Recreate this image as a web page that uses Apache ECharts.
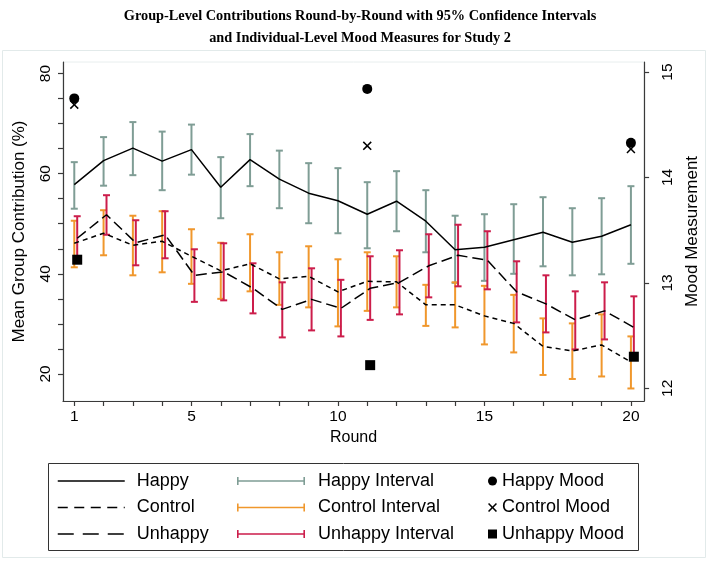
<!DOCTYPE html>
<html><head><meta charset="utf-8">
<script src="https://cdn.jsdelivr.net/npm/echarts@6/dist/echarts.min.js"></script>
<style>html,body{margin:0;padding:0;background:#fff}#c{width:709px;height:562px}</style>
</head><body><div id="c"></div>
<script>
// ---- data ----
const rounds = [1,2,3,4,5,6,7,8,9,10,11,12,13,14,15,16,17,18,19,20];
const happyMean   = [57.8,62.6,65.1,62.5,64.8,57.3,62.8,58.9,56.1,54.6,51.9,54.5,50.5,44.8,45.3,46.8,48.3,46.3,47.5,49.8];
const happyLow    = [53.0,57.6,59.7,56.7,59.8,51.1,57.5,53.1,50.1,48.1,45.1,48.5,44.3,38.2,38.6,40.0,41.5,39.7,39.9,42.0];
const happyHigh   = [62.3,67.3,70.3,68.4,69.8,63.3,67.9,64.6,62.1,61.1,58.3,60.5,56.7,51.6,51.9,53.9,55.3,53.1,55.1,57.5];
const controlMean = [46.1,48.1,45.7,46.5,43.5,40.6,42.0,39.0,39.5,36.4,38.5,38.4,33.8,33.8,31.6,30.1,25.5,24.6,25.8,22.4];
const controlLow  = [41.3,43.7,39.7,40.3,38.0,35.0,36.5,33.8,33.3,29.5,32.6,33.3,29.6,29.3,25.9,24.3,19.8,19.0,19.5,17.1];
const controlHigh = [50.6,52.7,51.6,52.5,48.9,46.2,47.9,44.3,45.5,42.9,44.3,43.5,37.8,38.3,37.6,35.8,31.1,30.1,31.9,27.5];
const unhappyMean = [47.1,51.8,46.2,47.8,39.7,40.4,37.1,32.9,34.9,33.1,37.1,38.3,41.6,43.7,42.7,36.4,34.0,30.8,32.6,29.3];
const unhappyLow  = [42.7,47.8,41.7,43.1,34.4,34.7,32.1,27.3,28.7,27.5,30.8,31.9,35.3,37.5,36.9,30.3,28.3,24.9,26.9,23.1];
const unhappyHigh = [51.5,55.7,50.7,52.5,44.9,46.1,42.1,38.3,41.1,38.8,43.5,44.7,47.9,49.8,48.5,42.5,39.7,36.5,38.3,35.5];
const moodRounds  = [1,11,20];
const happyMood   = [14.75,14.84,14.33];
const controlMood = [14.69,14.30,14.27];
const unhappyMood = [13.22,12.22,12.30];
// tick labels
const roundTicks = rounds;
const roundLabels = [1,5,10,15,20];
const contribTicks = [20,25,30,35,40,45,50,55,60,65,70,75,80];
const contribLabels = [20,40,60,80];
const moodTicks = [12,13,14,15];

// ---- styling ----
const SANS = 'Liberation Sans, Arial, sans-serif';
const GREEN = '#7f9d95', ORANGE = '#f0972c', RED = '#cc1d4b';
const AXIS = '#3a3a3a';
const UNHAPPY_SHIFT = 0.1; // unhappy marks drawn slightly right, as in reference
const X_ICON = 'path://M0,1.2L1.2,0L5,3.8L8.8,0L10,1.2L6.2,5L10,8.8L8.8,10L5,6.2L1.2,10L0,8.8L3.8,5Z';
const CAP_ICON = 'path://M0,0H1.6V3.3H66.4V0H68V8H66.4V4.7H1.6V8H0Z';

function pairs(xs, ys, shift) { return xs.map((x, i) => [x + (shift || 0), ys[i]]); }
function triples(xs, lo, hi, shift) { return xs.map((x, i) => [x + (shift || 0), lo[i], hi[i]]); }

function intervalSeries(name, color, lo, hi, shift) {
  return {
    name, type: 'custom', z: 2, itemStyle: { color },
    data: triples(rounds, lo, hi, shift),
    encode: { x: 0, y: [1, 2] },
    renderItem: function (params, api) {
      const x = api.value(0);
      const pHi = api.coord([x, api.value(2)]);
      const pLo = api.coord([x, api.value(1)]);
      const hw = 3.5;
      const st = { stroke: color, lineWidth: 2 };
      return { type: 'group', children: [
        { type: 'line', shape: { x1: pHi[0], y1: pHi[1], x2: pLo[0], y2: pLo[1] }, style: st },
        { type: 'line', shape: { x1: pHi[0] - hw, y1: pHi[1], x2: pHi[0] + hw, y2: pHi[1] }, style: st },
        { type: 'line', shape: { x1: pLo[0] - hw, y1: pLo[1], x2: pLo[0] + hw, y2: pLo[1] }, style: st }
      ]};
    }
  };
}
function lineSeries(name, ys, dash, shift) {
  return {
    name, type: 'line', z: 3, symbol: 'none', showSymbol: false, silent: true,
    data: pairs(rounds, ys, shift),
    itemStyle: { color: '#000' },
    lineStyle: { color: '#000', width: 1.5, type: dash }
  };
}
function moodSeries(name, ys, symbol, size, shift) {
  return {
    name, type: 'scatter', yAxisIndex: 1, z: 4, symbol, symbolSize: size,
    data: pairs(moodRounds, ys, shift),
    itemStyle: { color: '#000', opacity: 1 }
  };
}

const legendText = { fontFamily: SANS, fontSize: 18, color: '#000' };
const LEG_TOP = 472, LEG_GAP = 8.5;
const chart = echarts.init(document.getElementById('c'), null, { renderer: 'canvas' });
chart.setOption({
  animation: false,
  backgroundColor: '#fff',
  title: {
    text: 'Group-Level Contributions Round-by-Round with 95% Confidence Intervals\nand Individual-Level Mood Measures for Study 2',
    left: 355, top: 1, textAlign: 'center',
    textStyle: { fontFamily: 'Liberation Serif, Times New Roman, serif', fontWeight: 'bold', fontSize: 14.3, lineHeight: 21.5, color: '#000' }
  },
  graphic: [
    { type: 'rect', z: -10, shape: { x: 2.5, y: 50.5, width: 703, height: 507 }, style: { fill: 'none', stroke: '#e2eaea', lineWidth: 1 } },
    { type: 'rect', z: 10, shape: { x: 48.5, y: 463.5, width: 590, height: 87 }, style: { fill: 'none', stroke: '#333', lineWidth: 1 } }
  ],
  grid: { left: 63, right: 64, top: 62, bottom: 161, show: true, borderColor: '#e8eeee', borderWidth: 1, backgroundColor: 'transparent' },
  xAxis: {
    type: 'value', min: 0.615, max: 20.45,
    name: 'Round', nameLocation: 'middle', nameGap: 28,
    nameTextStyle: { fontFamily: SANS, fontSize: 16, color: '#000' },
    axisLine: { show: true, onZero: false, lineStyle: { color: AXIS, width: 1.2 } },
    axisTick: { show: true, length: 5, customValues: roundTicks, lineStyle: { color: AXIS, width: 1.2 } },
    axisLabel: { customValues: roundLabels, fontFamily: SANS, fontSize: 15.5, color: '#000', margin: 8 },
    splitLine: { show: false }
  },
  yAxis: [
    {
      type: 'value', position: 'left', min: 14.6, max: 82.3,
      name: 'Mean Group Contribution (%)', nameLocation: 'middle', nameGap: 35, nameRotate: 90,
      nameTextStyle: { fontFamily: SANS, fontSize: 17, color: '#000' },
      axisLine: { show: true, onZero: false, lineStyle: { color: AXIS, width: 1.2 } },
      axisTick: { show: true, length: 5, customValues: contribTicks, lineStyle: { color: AXIS, width: 1.2 } },
      axisLabel: { customValues: contribLabels, rotate: 90, fontFamily: SANS, fontSize: 15.5, color: '#000', margin: 9 },
      splitLine: { show: false }
    },
    {
      type: 'value', position: 'right', min: 11.88, max: 15.095,
      name: 'Mood Measurement', nameLocation: 'middle', nameGap: 30, nameRotate: 90,
      nameTextStyle: { fontFamily: SANS, fontSize: 17, color: '#000' },
      axisLine: { show: true, onZero: false, lineStyle: { color: AXIS, width: 1.2 } },
      axisTick: { show: true, length: 5, customValues: moodTicks, lineStyle: { color: AXIS, width: 1.2 } },
      axisLabel: { customValues: moodTicks, rotate: 90, fontFamily: SANS, fontSize: 15.5, color: '#000', margin: 16 },
      splitLine: { show: false }
    }
  ],
  legend: [
    { orient: 'vertical', left: 57, top: LEG_TOP, padding: 0, itemWidth: 67, itemHeight: 14, itemGap: LEG_GAP, selectedMode: false,
      itemStyle: { color: 'rgba(0,0,0,0)', borderColor: 'rgba(0,0,0,0)', borderWidth: 0 },
      textStyle: Object.assign({ padding: [0, 0, 0, 7] }, legendText),
      data: [
        { name: 'Happy', lineStyle: { type: 'solid', width: 1.5, color: '#000' } },
        { name: 'Control', lineStyle: { type: [10, 6.5], width: 1.5, color: '#000' } },
        { name: 'Unhappy', lineStyle: { type: [16, 9], width: 1.5, color: '#000' } }
      ] },
    { orient: 'vertical', left: 237, top: LEG_TOP, padding: 0, itemWidth: 68, itemHeight: 8, itemGap: LEG_GAP, selectedMode: false,
      textStyle: Object.assign({ padding: [0, 0, 0, 8] }, legendText),
      data: [{ name: 'Happy Interval', icon: CAP_ICON }, { name: 'Control Interval', icon: CAP_ICON }, { name: 'Unhappy Interval', icon: CAP_ICON }] },
    { orient: 'vertical', left: 488, top: LEG_TOP, padding: 0, itemWidth: 9, itemHeight: 9, itemGap: LEG_GAP, selectedMode: false,
      textStyle: legendText,
      data: [{ name: 'Happy Mood', icon: 'circle' }, { name: 'Control Mood', icon: X_ICON }, { name: 'Unhappy Mood', icon: 'rect' }] }
  ],
  series: [
    intervalSeries('Happy Interval', GREEN, happyLow, happyHigh, 0),
    intervalSeries('Control Interval', ORANGE, controlLow, controlHigh, 0),
    intervalSeries('Unhappy Interval', RED, unhappyLow, unhappyHigh, UNHAPPY_SHIFT),
    lineSeries('Happy', happyMean, 'solid', 0),
    lineSeries('Control', controlMean, [5, 4], 0),
    lineSeries('Unhappy', unhappyMean, [11, 5], UNHAPPY_SHIFT),
    moodSeries('Happy Mood', happyMood, 'circle', 10, 0),
    moodSeries('Control Mood', controlMood, X_ICON, 9, 0),
    moodSeries('Unhappy Mood', unhappyMood, 'rect', 10, UNHAPPY_SHIFT)
  ]
});
</script></body></html>
